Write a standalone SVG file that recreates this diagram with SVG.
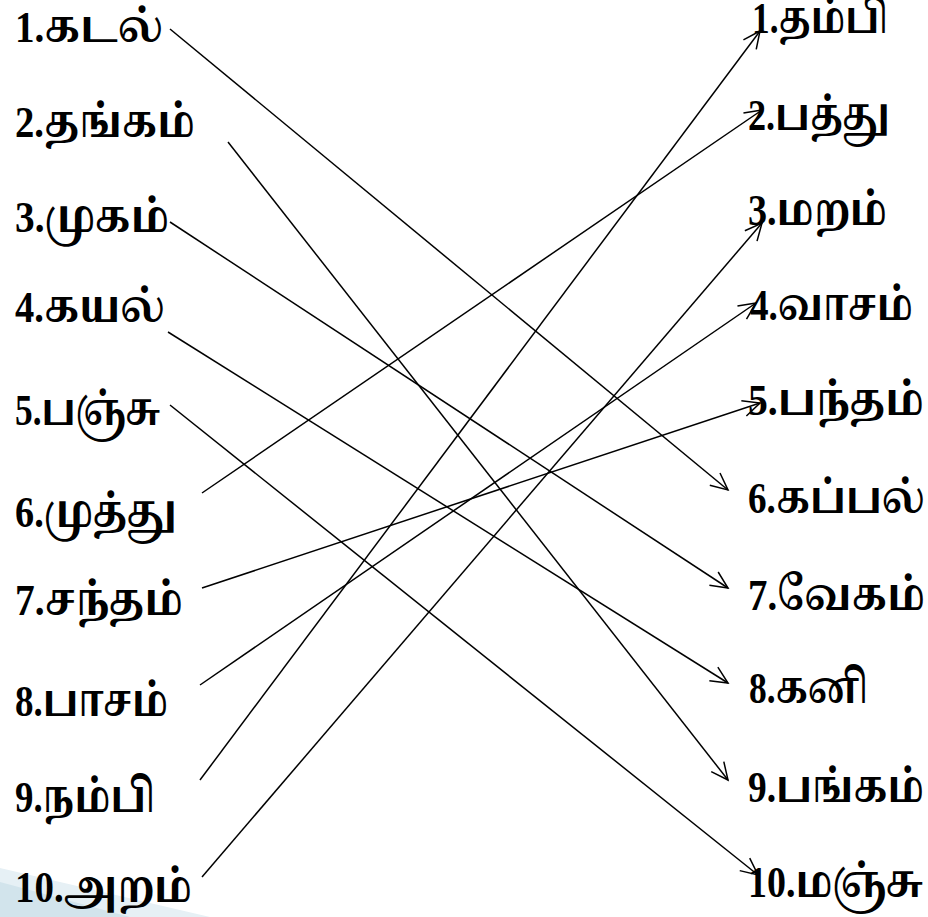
<svg xmlns="http://www.w3.org/2000/svg" width="928" height="917" viewBox="0 0 928 917">
<defs>
<style>
text{font-family:"Liberation Serif","Noto Serif Tamil","Noto Sans Tamil","Latha",serif;font-weight:bold;font-size:45px;fill:#000}
.c line{stroke:#000;stroke-width:1.5;fill:none;marker-end:url(#ah)}
</style>
<marker id="ah" markerUnits="userSpaceOnUse" markerWidth="22" markerHeight="22" viewBox="0 0 22 22" refX="19" refY="11" orient="auto">
<path d="M2,3 L19,11 L2,19" fill="none" stroke="#000" stroke-width="1.5"/>
</marker>
</defs>
<rect width="928" height="917" fill="#fff"/>
<polygon points="0,868 210,917 0,917" fill="#e6f0f5"/>
<polygon points="0,882 130,917 0,917" fill="#d2e4ec"/>
<g id="left1"><text x="15" y="42" textLength="148" lengthAdjust="spacingAndGlyphs">1.கடல்</text></g>
<g id="left2"><text x="15" y="137" textLength="180" lengthAdjust="spacingAndGlyphs">2.தங்கம்</text></g>
<g id="left3"><text x="15" y="232" textLength="154" lengthAdjust="spacingAndGlyphs">3.முகம்</text></g>
<g id="left4"><text x="15" y="322" textLength="150" lengthAdjust="spacingAndGlyphs">4.கயல்</text></g>
<g id="left5"><text x="15" y="425" textLength="145" lengthAdjust="spacingAndGlyphs">5.பஞ்சு</text></g>
<g id="left6"><text x="15" y="527" textLength="162" lengthAdjust="spacingAndGlyphs">6.முத்து</text></g>
<g id="left7"><text x="15" y="615" textLength="168" lengthAdjust="spacingAndGlyphs">7.சந்தம்</text></g>
<g id="left8"><text x="15" y="716" textLength="153" lengthAdjust="spacingAndGlyphs">8.பாசம்</text></g>
<g id="left9"><text x="15" y="812" textLength="140" lengthAdjust="spacingAndGlyphs">9.நம்பி</text></g>
<g id="left10"><text x="15" y="902" textLength="177" lengthAdjust="spacingAndGlyphs">10.அறம்</text></g>
<g id="right1"><text x="752" y="33" textLength="136" lengthAdjust="spacingAndGlyphs">1.தம்பி</text></g>
<g id="right2"><text x="748" y="130" textLength="142" lengthAdjust="spacingAndGlyphs">2.பத்து</text></g>
<g id="right3"><text x="748" y="225" textLength="139" lengthAdjust="spacingAndGlyphs">3.மறம்</text></g>
<g id="right4"><text x="750" y="320" textLength="163" lengthAdjust="spacingAndGlyphs">4.வாசம்</text></g>
<g id="right5"><text x="748" y="415" textLength="176" lengthAdjust="spacingAndGlyphs">5.பந்தம்</text></g>
<g id="right6"><text x="748" y="513" textLength="177" lengthAdjust="spacingAndGlyphs">6.கப்பல்</text></g>
<g id="right7"><text x="748" y="610" textLength="177" lengthAdjust="spacingAndGlyphs">7.வேகம்</text></g>
<g id="right8"><text x="749" y="703" textLength="119" lengthAdjust="spacingAndGlyphs">8.கனி</text></g>
<g id="right9"><text x="748" y="802" textLength="176" lengthAdjust="spacingAndGlyphs">9.பங்கம்</text></g>
<g id="right10"><text x="748" y="897" textLength="175" lengthAdjust="spacingAndGlyphs">10.மஞ்சு</text></g>
<g id="connectors" class="c">
<line x1="170" y1="29" x2="728" y2="490"/>
<line x1="228" y1="142" x2="728" y2="780"/>
<line x1="170" y1="222" x2="728" y2="588"/>
<line x1="168" y1="332" x2="728" y2="683"/>
<line x1="170" y1="405" x2="758" y2="875"/>
<line x1="202" y1="493" x2="762" y2="110"/>
<line x1="202" y1="588" x2="760" y2="403"/>
<line x1="200" y1="685" x2="756" y2="303"/>
<line x1="200" y1="780" x2="760" y2="31"/>
<line x1="202" y1="877" x2="762" y2="223"/>
</g>
</svg>
